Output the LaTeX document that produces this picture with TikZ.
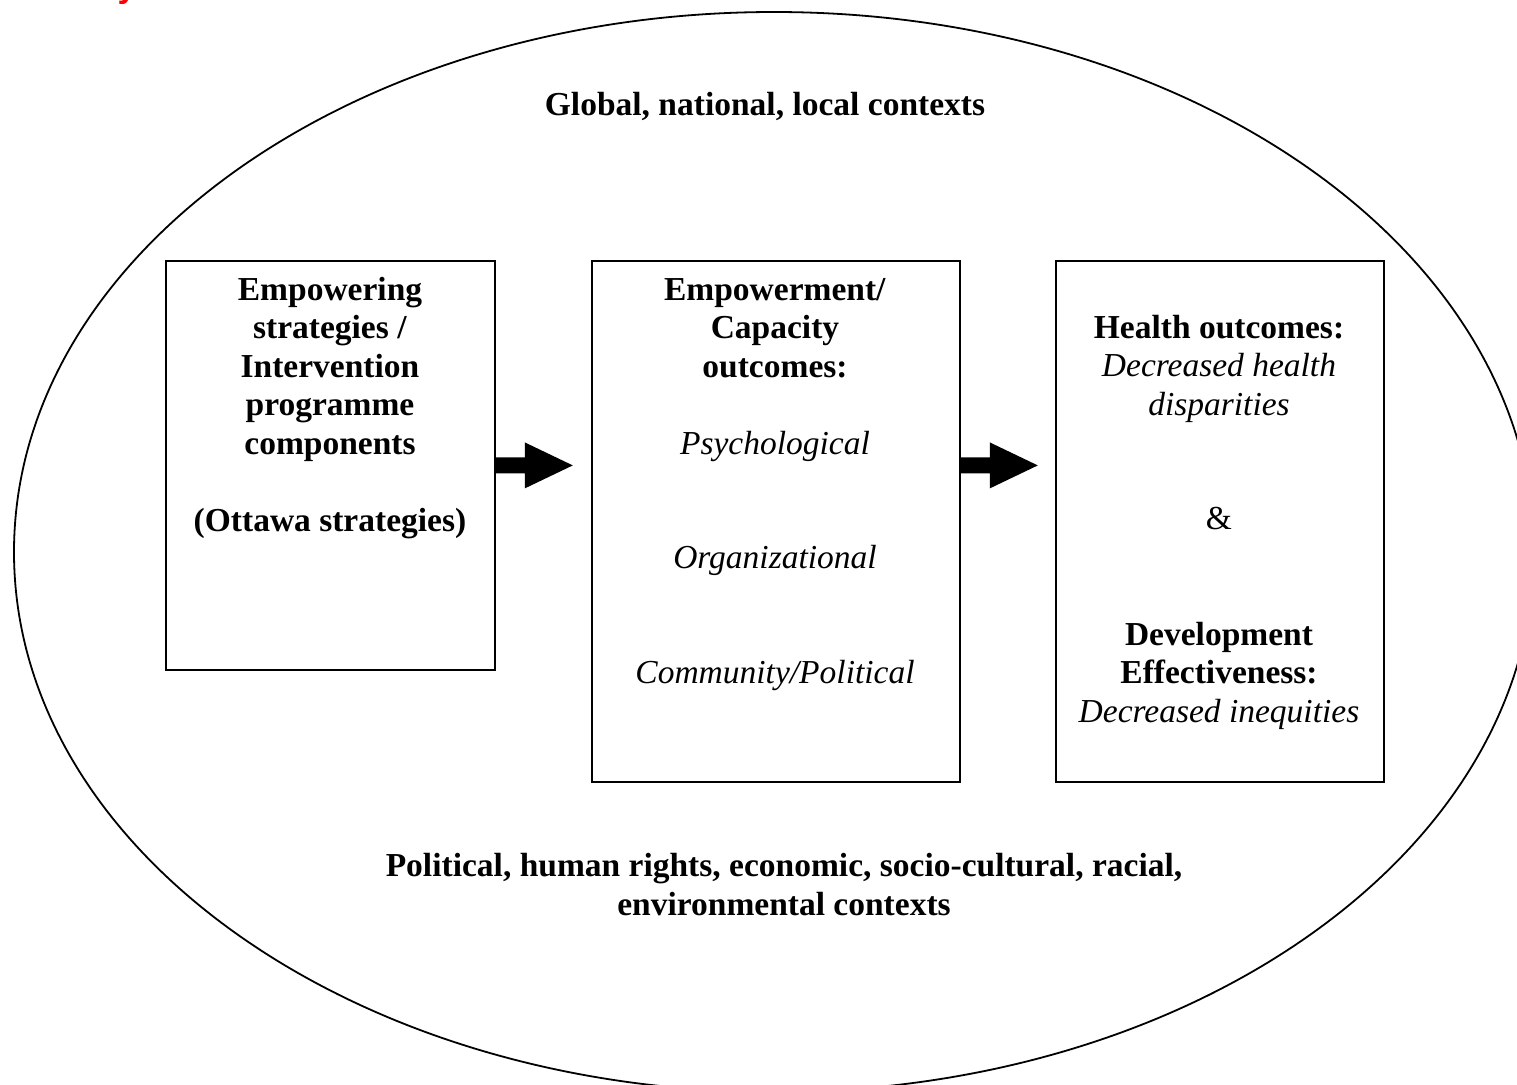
\documentclass[tikz,border=0pt]{standalone}
\usepackage{fontspec}
\setmainfont{Liberation Serif}
\newfontfamily\redsans{Liberation Sans}
\usetikzlibrary{calc}
\begin{document}
\begin{tikzpicture}[x=1pt,y=-1pt,
  boxnode/.style={draw,line width=1.8pt,anchor=north west,inner sep=0pt},
  txt/.style={font=\fontsize{33.5}{38.5}\selectfont,align=center,inner sep=0pt,anchor=base},
  bigarrow/.style={fill=black}]
\useasboundingbox (0,0) rectangle (1517,1084);
% red fragment of a cut-off title
\node[font=\redsans\bfseries\fontsize{34}{40}\selectfont,text=red,inner sep=0pt,anchor=base] (frag) at (127,-2) {y};
% outer ellipse
\draw[line width=1.8pt] (774,552) ellipse [x radius=760, y radius=540];
% boxes
\node[boxnode,minimum width=329pt,minimum height=409pt] (b1) at (165,260) {};
\node[boxnode,minimum width=368pt,minimum height=521pt] (b2) at (591,260) {};
\node[boxnode,minimum width=328pt,minimum height=521pt] (b3) at (1055,260) {};
% arrows
\coordinate (a1) at (b1.east);
\coordinate (a2) at (b2.east |- b1.east);
\fill[bigarrow] ($(a1)+(0,-8)$) -- ++(29,0) -- ++(0,-15) -- ($(a1)+(77,0)$) -- ($(a1)+(29,23)$) -- ++(0,-15) -- ($(a1)+(0,8)$) -- cycle;
\fill[bigarrow] ($(a2)+(0,-8)$) -- ++(29,0) -- ++(0,-15) -- ($(a2)+(77,0)$) -- ($(a2)+(29,23)$) -- ++(0,-15) -- ($(a2)+(0,8)$) -- cycle;
% texts (anchor=base is the baseline of the last line)
\node[txt] (top) at (765,115) {\textbf{Global, national, local contexts}};
\node[txt] (t1) at (330,531) {\textbf{Empowering}\\\textbf{strategies /}\\\textbf{Intervention}\\\textbf{programme}\\\textbf{components}\\[38.5pt]\textbf{(Ottawa strategies)}};
\node[txt] (t2a) at (775,377) {\textbf{Empowerment/}\\\textbf{Capacity}\\\textbf{outcomes:}};
\node[txt] (t2b) at (775,454) {\textit{Psychological}};
\node[txt] (t2c) at (775,568) {\textit{Organizational}};
\node[txt] (t2d) at (775,683) {\textit{Community/Political}};
\node[txt] (t3a) at (1219,415) {\textbf{Health outcomes:}\\\textit{Decreased health}\\\textit{disparities}};
\node[txt] (t3b) at (1219,529) {\&};
\node[txt] (t3c) at (1219,722) {\textbf{Development}\\\textbf{Effectiveness:}\\\textit{Decreased inequities}};
\node[txt] (bot) at (784,915) {\textbf{Political, human rights, economic, socio-cultural, racial,}\\\textbf{environmental contexts}};
\end{tikzpicture}
\end{document}
